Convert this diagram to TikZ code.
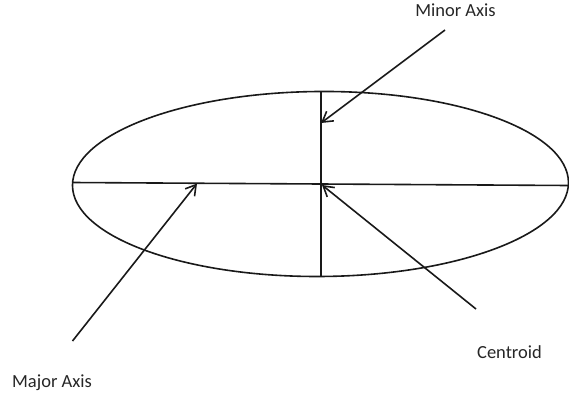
\documentclass[tikz,border=0pt]{standalone}
\usepackage{fontspec}
\setmainfont{Carlito}
\usetikzlibrary{arrows.meta}
\tikzset{
  shape line/.style={line width=1.6pt, black!90},
  pointer/.style={line width=1.6pt, black!90, -{Straight Barb[length=10pt,width=12pt,line width=1.6pt]}},
  lbl/.style={font=\fontsize{18.5}{20}\selectfont, text=black!85, inner sep=0pt}
}
\begin{document}
\begin{tikzpicture}[x=1pt,y=-1pt]
\useasboundingbox (0,0) rectangle (569,396);
% ellipse
\coordinate (C) at (320.5,184);
\draw[shape line, rotate around={0.35:(C)}] (C) ellipse [x radius=248, y radius=92.5];
% axes
\coordinate (L) at (72.5,182.5);
\coordinate (R) at (568.5,185.5);
\coordinate (T) at (321,92);
\coordinate (B) at (321,277);
\draw[shape line] (L) -- (R);
\draw[shape line] (T) -- (B);
% labels
\node[lbl] (minor) at (455.5,10.5) {Minor Axis};
\node[lbl] (centroid) at (509.5,352) {Centroid};
\node[lbl] (major) at (52,382.5) {Major Axis};
% arrows
\coordinate (minorS) at (445,30);
\coordinate (minorT) at (321,123);
\coordinate (majorS) at (72.5,341);
\coordinate (majorT) at (197,183.5);
\coordinate (centS) at (476,309);
\coordinate (centT) at (322,185);
\draw[pointer] (minorS) -- (minorT);
\draw[pointer] (majorS) -- (majorT);
\draw[pointer] (centS) -- (centT);
\end{tikzpicture}
\end{document}
